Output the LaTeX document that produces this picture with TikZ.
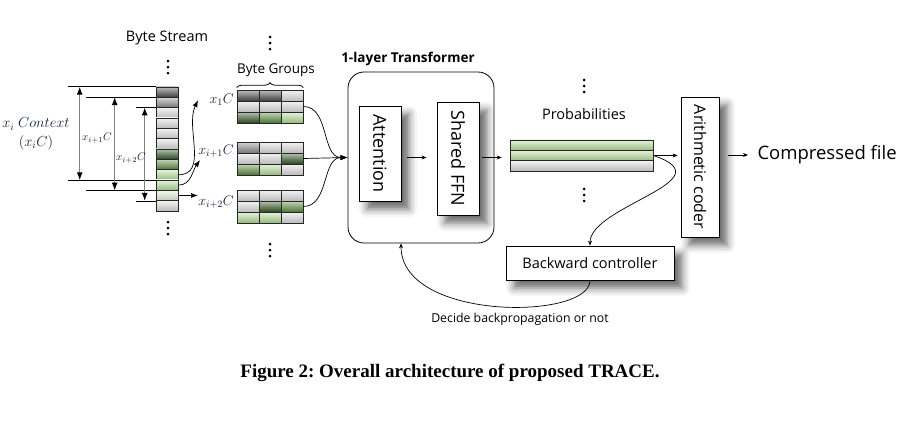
\RequirePackage{fix-cm}
\documentclass[tikz,border=0pt]{standalone}
\usepackage{fontspec}
\setmainfont{Open Sans}
\newfontfamily\capfont{Liberation Serif}
\usepackage{graphicx}
\usetikzlibrary{arrows.meta,decorations.pathreplacing,shadows.blur}

\definecolor{cDG}{RGB}{72,72,72}
\definecolor{cG}{RGB}{135,135,135}
\definecolor{cW}{RGB}{220,220,220}
\definecolor{cDGr}{RGB}{48,82,34}
\definecolor{cGr}{RGB}{88,138,58}
\definecolor{cLGr}{RGB}{178,220,150}
\definecolor{cVLGr}{RGB}{222,240,212}
\definecolor{navy}{RGB}{20,34,64}

\newcommand{\fsz}[1]{\fontsize{#1}{#1}\selectfont}

\tikzset{
  bytecell/.style={draw=black!85, line width=0.6pt, inner sep=0pt,
    minimum width=22pt, minimum height=11pt,
    top color=#1!35!white, bottom color=#1!85!black},
  blk/.style={draw, line width=0.8pt, fill=white, inner sep=0pt,
    blur shadow={shadow xshift=8pt, shadow yshift=-8pt,
      shadow blur radius=8pt, shadow opacity=60}},
  lbl/.style={text=navy, inner sep=1pt},
  dim/.style={gray, line width=1.2pt,
    {Latex[length=8pt,width=6pt,color=black]}-{Latex[length=8pt,width=6pt,color=black]}},
  fwd/.style={line width=0.7pt, -{Latex[length=7pt,width=5pt]}},
  flow/.style={line width=0.7pt, -{Stealth[length=5pt,width=4pt]}},
  dotcol/.pic={\foreach \k in {-6,0,6} \fill (0,\k) circle (1.5);}
}

\newcommand{\bytegroup}[3]{%
  \foreach \c [count=\k from 0] in {#3} {
    \pgfmathtruncatemacro{\gr}{\k/3}
    \pgfmathtruncatemacro{\gc}{\k-3*\gr}
    \node[bytecell=\c] (#1-\gr-\gc) at ({248+22*\gc},{#2+5.5+11*\gr}) {};
  }}

\begin{document}
\begin{tikzpicture}[x=1pt,y=-1pt]
  \useasboundingbox (0,0) rectangle (910,421);

  \node[font=\fsz{14.5}] (bs) at (167,38) {Byte Stream};
  \pic at (168,67) {dotcol};
  \foreach \c [count=\i] in {cDG,cG,cW,cW,cW,cW,cDGr,cGr,cLGr,cLGr,cVLGr,cW}
    \node[bytecell=\c, minimum height=10.33pt] (s\i) at (167,{87+10.33*\i-5.17}) {};
  \pic at (168,228) {dotcol};

  \draw[line width=0.8pt] (s1.north west) -- ++(-88,0);
  \draw[line width=0.8pt] (s9.south west) -- ++(-88,0);
  \draw[line width=0.8pt] (s2.north west) -- ++(-70,0);
  \draw[line width=0.8pt] (s10.south west) -- ++(-70,0);
  \draw[line width=0.8pt] (s3.north west) -- ++(-20,0);
  \draw[line width=0.8pt] (s11.south west) -- ++(-20,0);
  \draw[dim] ([xshift=-76pt]s1.north west) -- ([xshift=-76pt]s9.south west);
  \draw[dim] ([xshift=-41pt]s2.north west) -- ([xshift=-41pt]s10.south west);
  \draw[dim] ([xshift=-11pt]s3.north west) -- ([xshift=-11pt]s11.south west);
  \node[lbl, align=center, font=\fsz{14.5}] (ctx) at (36,134) {$x_i\ Context$\\[4pt]$(x_iC)$};
  \node[lbl, font=\fsz{11}] (c2) at (97,138) {$x_{i+1}C$};
  \node[lbl, font=\fsz{11}] (c3) at (131,158) {$x_{i+2}C$};

  \coordinate (t1) at (198,100);
  \coordinate (t2) at (200,160);
  \draw[fwd] (s9.east) to[out=0,in=-115] (t1);
  \draw[fwd] (s10.east) to[out=0,in=-125] (t2);
  \draw[fwd] (s11.east) -- (s11.east -| t1);

  \bytegroup{g1}{90}{cDG,cDG,cW,cW,cW,cW,cDGr,cGr,cLGr}
  \bytegroup{g2}{142}{cG,cW,cW,cW,cW,cDGr,cGr,cLGr,cW}
  \bytegroup{g3}{190}{cW,cW,cW,cW,cDGr,cGr,cLGr,cLGr,cW}
  \node[lbl, font=\fsz{14}, anchor=east] (l1) at (235,100) {$x_1C$};
  \node[lbl, font=\fsz{14}, anchor=east] (l2) at (235,151) {$x_{i+1}C$};
  \node[lbl, font=\fsz{14}, anchor=east] (l3) at (235,202) {$x_{i+2}C$};
  \draw[line width=0.8pt, decorate, decoration={brace,amplitude=5pt}]
    ([yshift=2pt]g1-0-0.north west) -- ([yshift=2pt]g1-0-2.north east);
  \node[font=\fsz{13.5}] (bgp) at (276,70) {Byte Groups};
  \pic at (270,43) {dotcol};
  \pic at (270,250) {dotcol};

  \node[draw, line width=0.8pt, rounded corners=16pt, minimum width=146pt,
    minimum height=171pt] (tf) at (421,157.5) {};
  \node[font=\bfseries\fsz{13.5}] (tft) at (408,59) {1-layer Transformer};
  \node[blk, minimum width=42pt, minimum height=95pt, font=\fsz{18}] (att) at (380,153.5) {\rotatebox{-90}{Attention}};
  \node[blk, minimum width=42pt, minimum height=113pt, font=\fsz{18}] (ffn) at (458,158.5) {\rotatebox{-90}{Shared FFN}};
  \draw[fwd] (g1-1-2.east) to[out=0,in=180] (tf.west);
  \draw[fwd] (g2-1-2.east) -- (tf.west);
  \draw[fwd] (g3-1-2.east) to[out=0,in=180] (tf.west);

  \node[font=\fsz{14.5}] (pt) at (584,114) {Probabilities};
  \pic at (584,86) {dotcol};
  \foreach \c [count=\i] in {cLGr,cLGr,cW}
    \node[bytecell=\c, minimum width=143pt, minimum height=10.33pt] (p\i) at (581.5,{140+10.33*\i-5.17}) {};
  \pic at (584,195) {dotcol};
  \draw[flow, shorten <=6pt, shorten >=10pt] (att.east |- tf.center) -- (ffn.west |- tf.center);
  \draw[flow, shorten <=3pt, shorten >=8pt] (ffn.east |- tf.center) -- (p1.west |- tf.center);

  \node[blk, minimum width=38pt, minimum height=140pt, font=\fsz{16}] (ac) at (700,167) {\rotatebox{-90}{Arithmetic coder}};
  \draw[flow, shorten >=3pt] (p2.east) -- (ac.west |- p2.east);
  \node[font=\fsz{18.5}, anchor=west] (cf) at (754,155) {Compressed file};
  \draw[flow, shorten <=9pt, shorten >=6pt] (ac.east |- cf.west) -- (cf.west);

  \node[blk, minimum width=168pt, minimum height=34pt, font=\fsz{14.5}] (bc) at (590,263) {Backward controller};
  \draw[flow] (p2.east) .. controls +(75,25) and +(0,-40) .. (bc.north);
  \draw[flow] (bc.south) .. controls +(0,40) and +(0,78) .. ([xshift=-20pt]tf.south);
  \node[font=\fsz{12.3}] (dec) at (520,319) {Decide backpropagation or not};

  \node[font=\capfont\bfseries\fsz{19}\frenchspacing] (cap) at (450,373) {Figure 2: Overall architecture of proposed TRACE.};
\end{tikzpicture}
\end{document}
